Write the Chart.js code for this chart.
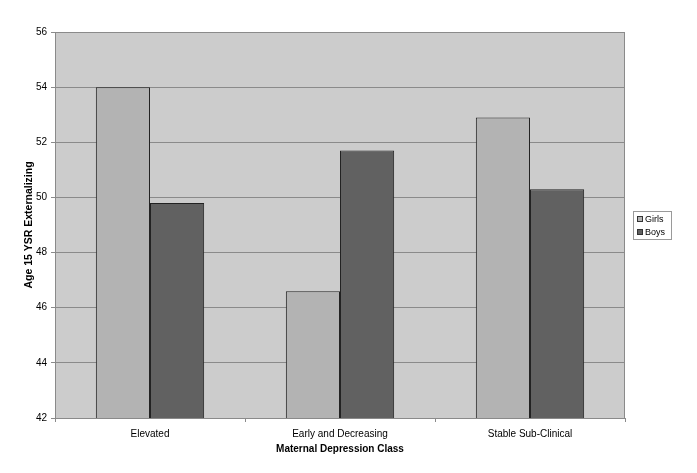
<!DOCTYPE html>
<html>
<head>
<meta charset="utf-8">
<script src="https://cdn.jsdelivr.net/npm/chart.js@4"></script>
<style>
  html, body { margin: 0; padding: 0; background: #fff; }
  #wrap { width: 697px; height: 473px; }
</style>
</head>
<body>
<div id="wrap"><canvas id="chart" width="697" height="473"></canvas></div>
<script>
const categories = ['Elevated', 'Early and Decreasing', 'Stable Sub-Clinical'];
const girls = [54.0, 46.6, 52.9];
const boys = [49.8, 51.7, 50.3];
const yTicks = [42, 44, 46, 48, 50, 52, 54, 56];

const font = "'Liberation Sans', Arial, sans-serif";

// grey plot area with a thin frame, like the old spreadsheet charts
const plotBg = {
    id: 'plotBg',
    beforeDraw(chart) {
        const { ctx, chartArea: a } = chart;
        ctx.save();
        ctx.fillStyle = '#cccccc';
        ctx.fillRect(a.left, a.top, a.right - a.left, a.bottom - a.top);
        ctx.restore();
    },
    afterDraw(chart) {
        const { ctx, chartArea: a } = chart;
        ctx.save();
        ctx.strokeStyle = '#8a8a8a';
        ctx.lineWidth = 1;
        ctx.strokeRect(a.left + 0.5, a.top + 0.5, a.right - a.left - 1, a.bottom - a.top);
        ctx.restore();
    }
};

// small boxed legend at the right
const boxLegend = {
    id: 'boxLegend',
    afterDraw(chart) {
        const { ctx } = chart;
        const x = 633, y = 211, w = 38, h = 28;
        ctx.save();
        ctx.fillStyle = '#fff';
        ctx.fillRect(x, y, w, h);
        ctx.strokeStyle = '#9a9a9a';
        ctx.lineWidth = 1;
        ctx.strokeRect(x + 0.5, y + 0.5, w, h);
        ctx.font = '9px ' + font;
        ctx.textBaseline = 'middle';
        chart.data.datasets.forEach((ds, i) => {
            const cy = y + 8 + i * 13;
            ctx.fillStyle = ds.backgroundColor;
            ctx.fillRect(x + 4, cy - 3, 6, 6);
            ctx.strokeStyle = '#333';
            ctx.strokeRect(x + 4.5, cy - 2.5, 5, 5);
            ctx.fillStyle = '#000';
            ctx.fillText(ds.label, x + 12, cy + 0.5);
        });
        ctx.restore();
    }
};

new Chart(document.getElementById('chart'), {
    type: 'bar',
    data: {
        labels: categories,
        datasets: [
            { label: 'Girls', data: girls, backgroundColor: '#b3b3b3', borderColor: '#222', borderWidth: 1 },
            { label: 'Boys', data: boys, backgroundColor: '#616161', borderColor: '#222', borderWidth: 1 },
        ],
    },
    options: {
        responsive: false,
        animation: false,
        devicePixelRatio: 1,
        layout: { padding: { top: 32, right: 72, left: 19, bottom: 14 } },
        datasets: { bar: { categoryPercentage: 0.57, barPercentage: 1.0 } },
        plugins: { legend: { display: false }, tooltip: { enabled: false } },
        scales: {
            x: {
                afterFit(s) { s.height = 41; },
                grid: { offset: true, drawOnChartArea: false, drawTicks: true, tickLength: 4, color: '#8a8a8a' },
                border: { display: false },
                ticks: { color: '#000', font: { family: font, size: 10 }, padding: 6 },
                title: { display: true, text: 'Maternal Depression Class', color: '#000', font: { family: font, size: 10, weight: 'bold' }, padding: { top: 2 } },
            },
            y: {
                min: 42,
                max: 56,
                afterFit(s) { s.width = 36; },
                afterBuildTicks(s) { s.ticks = yTicks.map(v => ({ value: v })); },
                grid: { color: '#8a8a8a', tickLength: 4, drawTicks: true },
                border: { display: false },
                ticks: { color: '#000', font: { family: font, size: 10 }, padding: 4 },
                title: { display: true, text: 'Age 15 YSR Externalizing', color: '#000', font: { family: font, size: 10.5, weight: 'bold' }, padding: { bottom: 2 } },
            },
        },
    },
    plugins: [plotBg, boxLegend],
});
</script>
</body>
</html>
